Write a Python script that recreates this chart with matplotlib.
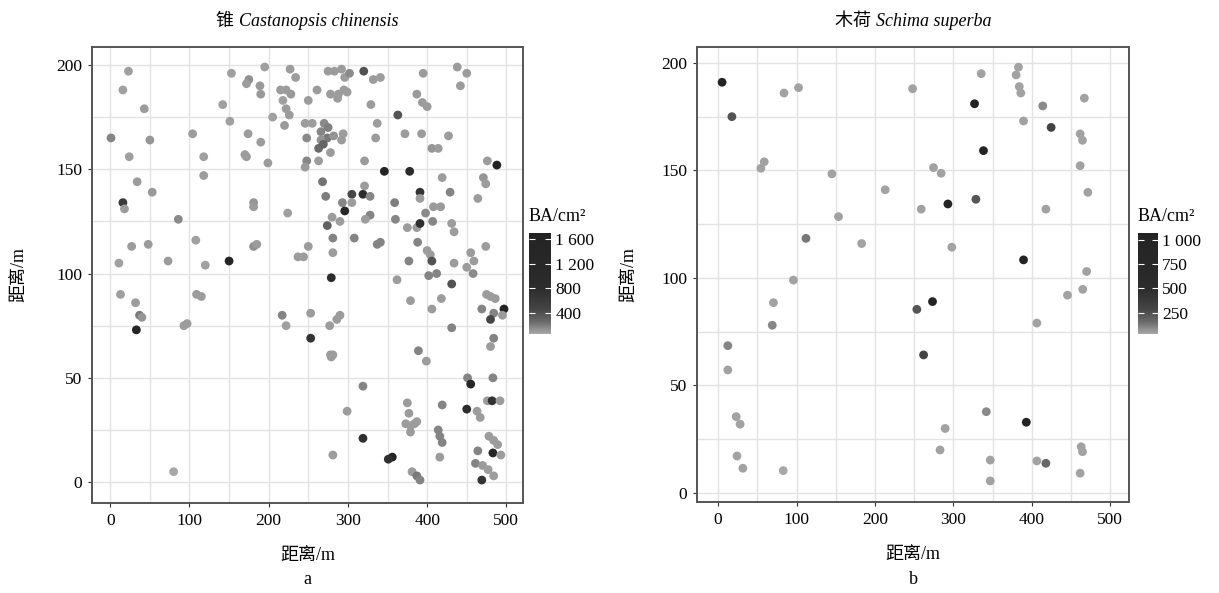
import matplotlib
matplotlib.use('Agg')
import matplotlib.pyplot as plt
from matplotlib.colors import LinearSegmentedColormap, Normalize
import numpy as np

plt.rcParams['font.family'] = ['Liberation Serif', 'Noto Sans CJK SC']

# panel a: Castanopsis chinensis  (x m, y m, BA cm2)
a_x = [23, 16, 43, 1, 50, 24, 34, 53, 16, 18, 86, 27, 48, 108, 11, 73, 120, 150, 104, 118,
       118, 153, 142, 151, 175, 172, 189, 190, 195, 174, 190, 170, 172, 199, 205, 220, 181, 181, 224, 181,
       185, 227, 234, 215, 222, 228, 218, 222, 226, 237,
       13, 32, 37, 40, 33, 109, 115, 93, 97, 217, 222, 80,
       275, 283, 292, 296, 302, 320, 332, 341, 261, 278, 288, 299, 250, 287, 295, 329, 395, 438,
       450, 442, 387, 394, 400, 363, 246, 255, 270, 275, 266, 274, 266, 282, 294, 292, 337, 335, 248, 263,
       269, 278, 372, 393, 427, 406, 414, 248, 246, 263, 321, 346, 378, 488, 476, 419, 471, 474, 464, 268,
       272, 293, 305, 319, 328, 321, 305, 296, 359, 391, 391, 429, 398, 408, 417, 407, 328, 322, 274, 280,
       290, 360, 375, 387, 391, 431, 434, 281, 308, 250, 244, 281, 337, 341, 388, 400, 404, 406, 377, 434,
       450, 455, 459, 474,
       279, 362, 402, 412, 431, 458, 379, 418, 406, 475, 480, 486, 469, 484, 480, 497, 495, 431, 253, 290,
       286, 277, 253, 278, 281, 279, 389, 399, 484, 480, 451, 455, 483, 319, 299, 375, 377, 373, 379, 384,
       387, 379, 419, 414, 416, 419, 416, 450, 463, 467, 476, 482, 492, 478, 484, 489, 483, 493, 464, 461,
       470, 477, 484, 469, 319, 281, 356, 351, 381, 387, 391]
a_y = [197, 188, 179, 165, 164, 156, 144, 139, 134, 131, 126, 113, 114, 116, 105, 106, 104, 106, 167, 156,
       147, 196, 181, 173, 193, 191, 190, 186, 199, 167, 163, 157, 156, 153, 175, 171, 134, 132, 129, 113,
       114, 198, 194, 188, 188, 186, 183, 179, 176, 108,
       90, 86, 80, 79, 73, 90, 89, 75, 76, 80, 75, 5,
       197, 197, 198, 194, 196, 197, 193, 194, 188, 186, 186, 187, 183, 184, 188, 181, 196, 199,
       196, 190, 186, 182, 180, 176, 172, 172, 172, 170, 168, 165, 164, 166, 167, 164, 172, 165, 165, 160,
       162, 158, 167, 167, 166, 160, 160, 154, 151, 154, 154, 149, 149, 152, 154, 146, 146, 143, 136, 144,
       137, 134, 138, 138, 137, 142, 134, 130, 134, 139, 136, 139, 129, 132, 132, 125, 128, 126, 123, 127,
       125, 126, 122, 122, 124, 124, 120, 117, 117, 113, 108, 110, 114, 115, 115, 111, 109, 106, 106, 105,
       103, 110, 106, 113,
       98, 97, 99, 100, 95, 100, 87, 88, 83, 90, 89, 88, 83, 81, 78, 83, 80, 74, 81, 80,
       78, 75, 69, 61, 61, 60, 63, 58, 69, 65, 50, 47, 50, 46, 34, 38, 33, 28, 27, 28,
       29, 24, 37, 25, 22, 19, 12, 35, 34, 31, 39, 39, 39, 22, 20, 18, 14, 13, 15, 9,
       8, 6, 3, 1, 21, 13, 12, 11, 5, 3, 1]
a_ba = [80, 80, 90, 160, 110, 80, 90, 100, 600, 90, 150, 90, 90, 80, 80, 90, 80, 1500, 90, 80,
        90, 80, 80, 80, 130, 90, 100, 100, 80, 90, 90, 90, 90, 90, 80, 100, 110, 90, 80, 130,
        90, 90, 90, 90, 90, 100, 80, 90, 90, 90,
        80, 90, 200, 110, 1600, 90, 90, 90, 90, 170, 80, 50,
        90, 90, 90, 90, 150, 380, 90, 90, 90, 90, 90, 90, 90, 90, 90, 90, 90, 90,
        90, 90, 100, 90, 90, 380, 90, 90, 150, 180, 160, 200, 120, 120, 90, 90, 90, 90, 150, 250,
        280, 90, 90, 90, 90, 110, 90, 160, 90, 90, 90, 1600, 900, 1700, 90, 90, 110, 90, 90, 220,
        190, 160, 450, 800, 160, 90, 90, 1400, 180, 700, 90, 170, 150, 100, 100, 160, 170, 90, 300, 90,
        90, 160, 90, 90, 750, 90, 90, 170, 170, 90, 90, 90, 170, 170, 170, 90, 90, 380, 170, 90,
        90, 90, 90, 90,
        800, 90, 170, 170, 380, 150, 90, 90, 90, 90, 90, 90, 170, 170, 450, 1600, 90, 170, 90, 90,
        90, 90, 700, 90, 90, 90, 170, 90, 170, 90, 170, 1400, 170, 170, 90, 90, 90, 90, 90, 90,
        90, 90, 170, 170, 170, 170, 90, 800, 90, 90, 90, 700, 90, 90, 90, 90, 1500, 90, 170, 170,
        100, 90, 90, 700, 750, 90, 1600, 750, 90, 200, 170]

# panel b: Schima superba
b_x = [5, 17.5, 84, 102.5, 54.5, 58.7, 145, 213, 153.5, 112, 183,
       248, 335.5, 383, 380, 384, 386, 327, 414, 467, 389.5, 424.7, 461.7, 464.7, 338.4, 461.7, 274.6, 284.4,
       471.5, 293, 328.7, 259, 418, 298, 389.5, 470,
       96, 70.5, 69, 12.3, 12.3, 23, 28, 24, 31.5, 83,
       465, 445.5, 273.4, 253.4, 406.5, 262, 342, 393, 289.5, 283, 347, 347, 406.5, 418, 463, 464.7, 461.7]
b_y = [191, 175, 186, 188.5, 151, 154, 148.4, 141, 128.5, 118.4, 116,
       188, 195, 198, 194.4, 189, 186, 181, 180, 183.6, 173, 170, 167, 164, 159.2, 152.2, 151.3, 148.7,
       139.8, 134.4, 136.6, 132, 132, 114.3, 108.4, 103,
       99, 88.5, 78, 68.5, 57.2, 35.5, 32, 17.2, 11.5, 10.4,
       94.7, 92, 89, 85.4, 79, 64.2, 37.8, 32.9, 30, 20, 15.3, 5.6, 14.9, 13.8, 21.5, 19.2, 9.2]
b_ba = [1000, 240, 45, 45, 45, 45, 45, 45, 45, 130, 45,
        45, 45, 45, 45, 45, 45, 1000, 92, 45, 45, 300, 45, 45, 1000, 45, 45, 45,
        45, 1000, 230, 45, 45, 45, 1070, 45,
        45, 45, 100, 100, 45, 45, 45, 45, 45, 30,
        45, 45, 1000, 230, 45, 300, 92, 1000, 45, 45, 45, 45, 45, 170, 45, 45, 45]

a_ticks = [400, 800, 1200, 1600]
a_ticklabels = ['400', '800', '1 200', '1 600']
b_ticks = [250, 500, 750, 1000]
b_ticklabels = ['250', '500', '750', '1 000']

cmap = LinearSegmentedColormap.from_list('ba', [
    (0.0, '#a8a8a8'), (0.12, '#6a6a6a'), (0.25, '#444444'),
    (0.45, '#2c2c2c'), (1.0, '#232323')])

fig = plt.figure(figsize=(12.19, 5.93), dpi=100)
W, H = 1219, 593


def fbox(x0, y0, x1, y1):
    return [x0 / W, 1 - y1 / H, (x1 - x0) / W, (y1 - y0) / H]


panels = [
    dict(x=a_x, y=a_y, v=a_ba, box=fbox(92, 47, 523, 503), cbox=fbox(529, 233, 551, 334),
         xlim=(-23, 521), ylim=(-10, 208.6), yminor=np.arange(25, 201, 50),
         cn='锥 ', lat='Castanopsis chinensis', ticks=a_ticks, tl=a_ticklabels, letter='a',
         ylx=27),
    dict(x=b_x, y=b_y, v=b_ba, box=fbox(697, 47, 1129, 502), cbox=fbox(1138, 233, 1158, 334),
         xlim=(-27, 524), ylim=(-4.2, 207.4), yminor=np.arange(25, 201, 50),
         cn='木荷 ', lat='Schima superba', ticks=b_ticks, tl=b_ticklabels, letter='b',
         ylx=637),
]

for p in panels:
    ax = fig.add_axes(p['box'])
    v = np.array(p['v'], dtype=float)
    norm = Normalize(v.min(), v.max())
    sc = ax.scatter(p['x'], p['y'], c=v, cmap=cmap, norm=norm, s=40, linewidths=0, zorder=3)
    ax.set_xlim(p['xlim'])
    ax.set_ylim(p['ylim'])
    ax.set_xticks([0, 100, 200, 300, 400, 500])
    ax.set_yticks([0, 50, 100, 150, 200])
    ax.set_xticks(np.arange(50, 501, 100), minor=True)
    ax.set_yticks(p['yminor'], minor=True)
    ax.grid(True, which='both', color='#e3e3e3', lw=1.0, zorder=0)
    ax.set_axisbelow(True)
    ax.tick_params(which='major', length=3, width=0.8, color='#333333', labelsize=12.5,
                   pad=4, labelcolor='black')
    ax.tick_params(which='minor', length=0)
    for s in ax.spines.values():
        s.set_color('#555555')
        s.set_linewidth(1.4)
    ax.set_xlabel('距离/m', fontsize=13, labelpad=13)
    ax.set_ylabel('距离/m', fontsize=13)
    ax.yaxis.set_label_coords((p['ylx'] - p['box'][0] * W) / (p['box'][2] * W), 0.5)

    # title: Chinese name + italic Latin name, centred together
    t1 = ax.text(0.5, 1.038, p['cn'], transform=ax.transAxes, ha='right', va='bottom',
                 fontsize=13)
    t2 = ax.text(0.5, 1.038, p['lat'], transform=ax.transAxes, ha='left', va='bottom',
                 fontsize=13, style='italic')
    fig.canvas.draw()
    r = fig.canvas.get_renderer()
    w1 = t1.get_window_extent(r).width
    w2 = t2.get_window_extent(r).width
    c = 0.5 - (w2 - w1) / 2 / (p['box'][2] * W)
    t1.set_x(c)
    t2.set_x(c)

    fig.text(p['box'][0] + p['box'][2] / 2, 1 - 579 / H, p['letter'], ha='center', va='center',
             fontsize=13)

    cax = fig.add_axes(p['cbox'])
    cb = fig.colorbar(sc, cax=cax, ticks=p['ticks'])
    cb.ax.set_yticklabels(p['tl'])
    cb.outline.set_visible(False)
    cb.ax.tick_params(direction='in', color='white', length=4, width=0.8, left=True, right=True,
                      labelsize=12.5, pad=3)
    cax.text(0, 1.08, 'BA/cm²', transform=cax.transAxes, ha='left', va='bottom', fontsize=13)

fig.savefig('out.png', dpi=100, facecolor='white')
